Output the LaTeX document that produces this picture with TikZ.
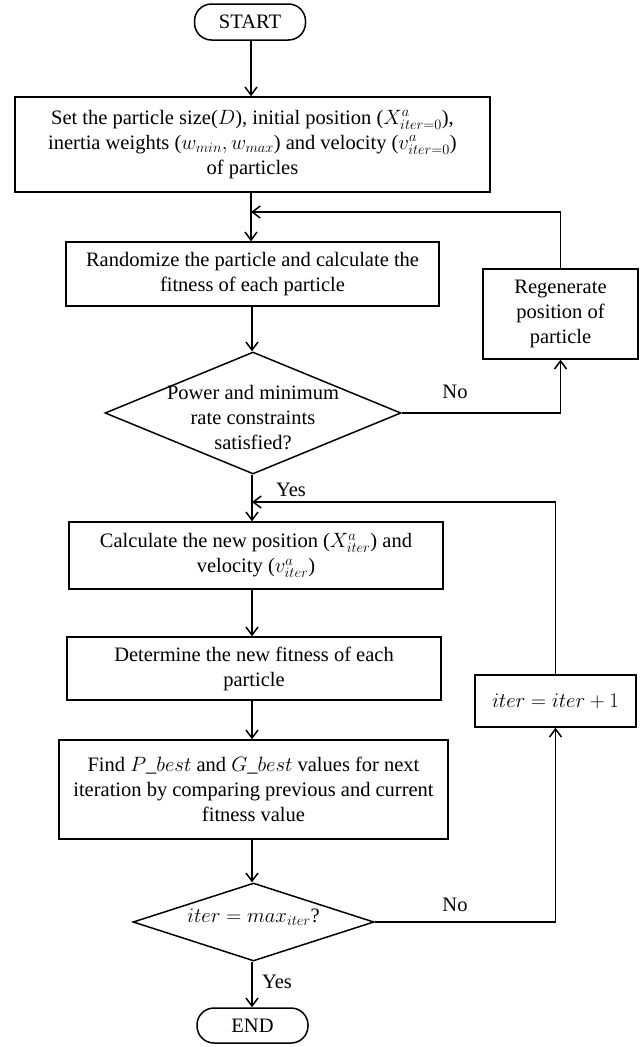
\documentclass[tikz,border=0pt]{standalone}
\usepackage{fontspec}
\setmainfont{Liberation Serif}
\usetikzlibrary{shapes.geometric,arrows.meta}
\begin{document}
\begin{tikzpicture}[x=1pt,y=-1pt,
  every node/.style={font=\fontsize{20.5}{25}\selectfont},
  box/.style={draw,line width=1.5pt,rectangle,align=center,inner sep=0pt},
  term/.style={draw,line width=1.5pt,rectangle,rounded corners=17pt,inner sep=0pt},
  dec/.style={draw,line width=1.5pt,diamond,inner sep=0pt},
  lbl/.style={align=center,inner sep=0pt},
  arr/.style={line width=1.5pt,-{Straight Barb[length=8pt,width=12pt]}}]
\useasboundingbox (0,0) rectangle (642,1047);

\node[term,minimum width=111pt,minimum height=36pt] (start) at (250,22) {START};
\node[box,minimum width=475pt,minimum height=95pt] (b1) at (252.5,144.5)
  {Set the particle size($D$), initial position ($X^{a}_{iter=0}$),\\
   inertia weights ($w_{min}, w_{max}$) and velocity ($v^{a}_{iter=0}$)\\
   of particles};
\node[box,minimum width=373pt,minimum height=64pt] (b2) at (252.5,274)
  {Randomize the particle and calculate the\\fitness of each particle};
\node[box,minimum width=155pt,minimum height=90pt] (regen) at (560.5,314)
  {Regenerate\\position of\\particle};
\node[dec,minimum width=296pt,minimum height=122pt] (d1) at (253,413) {};
\node[lbl] (d1t) at (253,418) {Power and minimum\\rate constraints\\satisfied?};
\node[box,minimum width=374pt,minimum height=67pt] (b3) at (256,555.5)
  {Calculate the new position ($X^{a}_{iter}$) and\\velocity ($v^{a}_{iter}$)};
\node[box,minimum width=374pt,minimum height=63pt] (b4) at (254,668.5)
  {Determine the new fitness of each\\particle};
\node[box,minimum width=161pt,minimum height=52pt] (inc) at (555.5,701)
  {$iter = iter + 1$};
\node[box,minimum width=389pt,minimum height=99pt] (b5) at (253.5,789.5)
  {Find $P\_best$ and $G\_best$ values for next\\
   iteration by comparing previous and current\\fitness value};
\node[dec,minimum width=241pt,minimum height=78pt] (d2) at (253.5,922) {};
\node[lbl] (d2t) at (253.5,917) {$iter = max_{iter}$?};
\node[term,minimum width=111pt,minimum height=35pt] (end) at (252.5,1025.5) {END};

\coordinate (j1) at (251,212);
\coordinate (j2) at (252,502);

\draw[arr] (start.south -| j1) -- (b1.north -| j1);
\draw[arr] (b1.south -| j1) -- (b2.north -| j1);
\draw[arr] (regen.north) |- (j1);
\draw[arr] (b2.south -| j2) -- (d1.north -| j2);
\draw[arr] (d1.east) -| (regen.south);
\node[lbl] (no1) at (455,392) {No};
\draw[arr] (d1.south -| j2) -- (b3.north -| j2);
\node[lbl] (yes1) at (291,490) {Yes};
\draw[arr] (inc.north) |- (j2);
\draw[arr] (b3.south -| j2) -- (b4.north -| j2);
\draw[arr] (b4.south -| j2) -- (b5.north -| j2);
\draw[arr] (b5.south -| j2) -- (d2.north -| j2);
\draw[arr] (d2.east) -| (inc.south);
\node[lbl] (no2) at (455,905) {No};
\draw[arr] (d2.south -| j2) -- (end.north -| j2);
\node[lbl] (yes2) at (277,982) {Yes};
\end{tikzpicture}
\end{document}
